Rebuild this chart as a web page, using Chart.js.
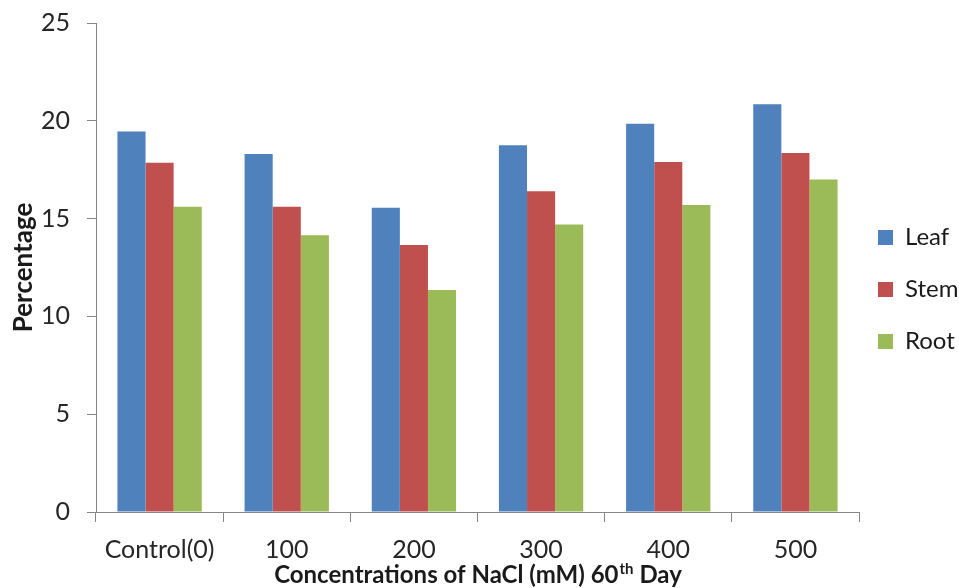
<!DOCTYPE html>
<html>
<head>
<meta charset="utf-8">
<script src="https://cdn.jsdelivr.net/npm/chart.js@4.4.1/dist/chart.umd.min.js"></script>
<style>
  html, body { margin: 0; padding: 0; background: #ffffff; }
  #wrap { width: 959px; height: 588px; position: relative; }
</style>
</head>
<body>
<div id="wrap"><canvas id="chart"></canvas></div>
<script>
// Salt-treatment groups (NaCl, mM) and percentage per plant part
const categories = ['Control(0)', '100', '200', '300', '400', '500'];
const leaf = [19.45, 18.3, 15.55, 18.75, 19.85, 20.85];
const stem = [17.85, 15.6, 13.65, 16.4, 17.9, 18.35];
const root = [15.6, 14.15, 11.35, 14.7, 15.7, 17.0];
const yTicks = [0, 5, 10, 15, 20, 25];

const yTitle = 'Percentage';
const xTitleMain = 'Concentrations of NaCl (mM) 60';
const xTitleSup = 'th';
const xTitleEnd = ' Day';

const axisGray = '#868686';
const FONT = 'Lato';

// Axis title under the category labels, with a raised ordinal suffix
const xTitlePlugin = {
  id: 'xTitleSup',
  afterDraw(chart) {
    const ctx = chart.ctx;
    const area = chart.chartArea;
    const big = 'bold 24px ' + FONT;
    const small = 'bold 15px ' + FONT;
    ctx.save();
    ctx.fillStyle = '#1a1a1a';
    ctx.textBaseline = 'alphabetic';
    ctx.textAlign = 'left';
    ctx.font = big;
    const w1 = ctx.measureText(xTitleMain).width;
    const w3 = ctx.measureText(xTitleEnd).width;
    ctx.font = small;
    const w2 = ctx.measureText(xTitleSup).width;
    let x = (area.left + area.right) / 2 - (w1 + w2 + w3) / 2;
    const base = chart.scales.x.bottom - 5;
    ctx.font = big;
    ctx.fillText(xTitleMain, x, base);
    x += w1 + 1;
    ctx.font = small;
    ctx.fillText(xTitleSup, x, base - 9);
    x += w2;
    ctx.font = big;
    ctx.fillText(xTitleEnd, x, base);
    ctx.restore();
  }
};

new Chart(document.getElementById('chart'), {
  type: 'bar',
  data: {
    labels: categories,
    datasets: [
      { label: 'Leaf', data: leaf, backgroundColor: '#4F81BD' },
      { label: 'Stem', data: stem, backgroundColor: '#C0504D' },
      { label: 'Root', data: root, backgroundColor: '#9BBB59' }
    ]
  },
  options: {
    responsive: true,
    maintainAspectRatio: false,
    animation: false,
    datasets: {
      bar: { categoryPercentage: 0.663, barPercentage: 1.0, borderWidth: 0 }
    },
    layout: { padding: 0 },
    plugins: {
      tooltip: { enabled: false },
      legend: {
        position: 'right',
        align: 'center',
        maxWidth: 100,
        labels: {
          boxWidth: 15,
          boxHeight: 15,
          padding: 19,
          color: '#1a1a1a',
          font: { family: FONT, size: 24, lineHeight: 1.375 },
          // one-line text arrays so each row is spaced by the font's line height
          generateLabels: chart =>
            Chart.defaults.plugins.legend.labels.generateLabels(chart)
              .map(item => Object.assign({}, item, { text: [item.text] }))
        }
      }
    },
    scales: {
      x: {
        afterFit: scale => { scale.height = 76; },
        grid: {
          offset: true,
          drawOnChartArea: false,
          drawTicks: true,
          tickLength: 10,
          color: axisGray,
          tickColor: axisGray
        },
        border: { color: axisGray, width: 1 },
        ticks: {
          color: '#262626',
          padding: 13,
          maxRotation: 0,
          font: { family: FONT, size: 25 }
        }
      },
      y: {
        min: 0,
        max: 25,
        afterBuildTicks: scale => { scale.ticks = yTicks.map(v => ({ value: v })); },
        afterFit: scale => { scale.width = 96; scale.paddingTop = 23; },
        grid: {
          drawOnChartArea: false,
          drawTicks: true,
          tickLength: 9,
          color: axisGray,
          tickColor: axisGray
        },
        border: { color: axisGray, width: 1 },
        ticks: {
          color: '#262626',
          padding: 17,
          font: { family: FONT, size: 25 }
        },
        title: {
          display: true,
          text: yTitle,
          color: '#1a1a1a',
          padding: { top: 8, bottom: 4 },
          font: { family: FONT, size: 26, weight: 'bold' }
        }
      }
    }
  },
  plugins: [xTitlePlugin]
});
</script>
</body>
</html>
